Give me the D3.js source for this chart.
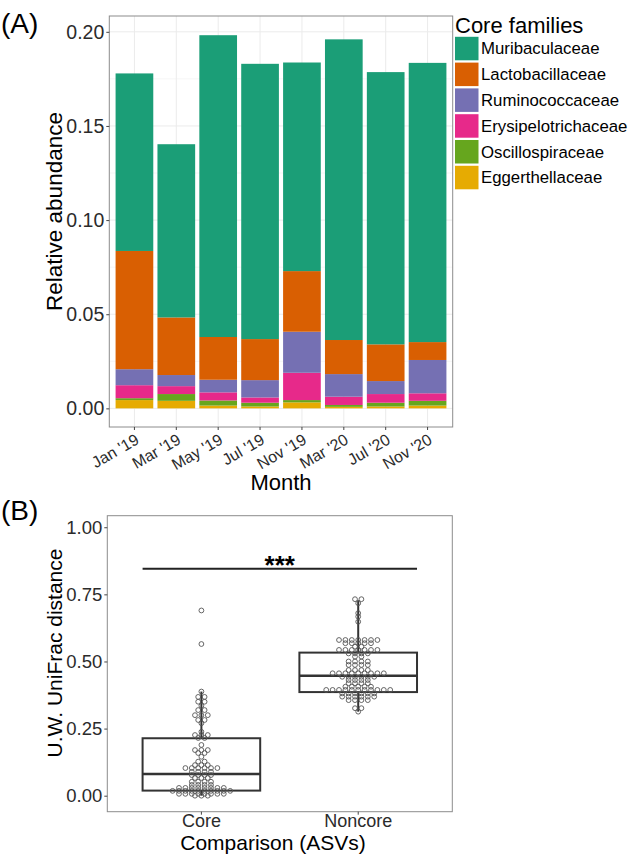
<!DOCTYPE html>
<html>
<head>
<meta charset="utf-8">
<script src="https://cdn.jsdelivr.net/npm/d3@7"></script>
<style>
  body { margin: 0; background: #fff; }
  svg { display: block; }
  text { font-family: "Liberation Sans", Arial, sans-serif; }
  .tick line { stroke: #444; }
  .tick text { fill: #2b2b2b; }
  .domain { display: none; }
</style>
</head>
<body>
<svg id="chart"></svg>
<script>
// ---- data: panel A (stacked relative abundance of core families) ----
const months = ["Jan '19", "Mar '19", "May '19", "Jul '19", "Nov '19", "Mar '20", "Jul '20", "Nov '20"];
const families = ["Muribaculaceae", "Lactobacillaceae", "Ruminococcaceae", "Erysipelotrichaceae", "Oscillospiraceae", "Eggerthellaceae"];
const familyColors = ["#1b9e77", "#d95f02", "#7570b3", "#e7298a", "#66a61e", "#e6ab02"];
const muribaculaceae      = [0.0943, 0.0920, 0.1603, 0.1462, 0.1108, 0.1597, 0.1446, 0.1483];
const lactobacillaceae    = [0.0628, 0.0306, 0.0227, 0.0218, 0.0322, 0.0181, 0.0195, 0.0095];
const ruminococcaceae     = [0.0085, 0.0059, 0.0067, 0.0092, 0.0218, 0.0120, 0.0069, 0.0177];
const erysipelotrichaceae = [0.0069, 0.0042, 0.0043, 0.0028, 0.0145, 0.0044, 0.0046, 0.0040];
const oscillospiraceae    = [0.0010, 0.0036, 0.0027, 0.0020, 0.0012, 0.0010, 0.0020, 0.0025];
const eggerthellaceae     = [0.0044, 0.0040, 0.0015, 0.0010, 0.0032, 0.0008, 0.0010, 0.0015];
const abundanceTicks = [0, 0.05, 0.10, 0.15, 0.20];

// ---- data: panel B (unweighted UniFrac distances) ----
const groups = ["Core", "Noncore"];
const boxLow    = [0.000, 0.313];
const boxQ1     = [0.019, 0.386];
const boxMedian = [0.081, 0.447];
const boxQ3     = [0.214, 0.533];
const boxHigh   = [0.388, 0.728];
const distanceTicks = [0, 0.25, 0.50, 0.75, 1.00];
const coreDistances = [
  0.690, 0.565,
  0.388, 0.368, 0.368, 0.350, 0.350, 0.335,
  0.319, 0.319, 0.300, 0.300, 0.300, 0.282, 0.282, 0.270,
  0.238, 0.226, 0.226, 0.226, 0.215, 0.215,
  0.189, 0.170, 0.170, 0.170, 0.159, 0.159, 0.145,
  0.127, 0.127, 0.114, 0.114, 0.114,
  0.103, 0.103, 0.103, 0.103, 0.103, 0.103,
  0.089, 0.089, 0.089, 0.089,
  0.077, 0.077, 0.077, 0.077,
  0.066, 0.066, 0.066,
  0.052, 0.052, 0.052, 0.052,
  0.040, 0.040, 0.040, 0.040,
  0.029, 0.029, 0.029, 0.029, 0.029, 0.029, 0.029, 0.029,
  0.018, 0.018, 0.018, 0.018, 0.018, 0.018, 0.018, 0.018, 0.018, 0.018,
  0.007, 0.007, 0.007, 0.007, 0.007, 0.007, 0.007, 0.007,
  0.000, 0.000, 0.000
];
const noncoreDistances = [
  0.732, 0.732, 0.717, 0.680, 0.667, 0.648,
  0.580, 0.580, 0.580, 0.580, 0.580, 0.580, 0.580,
  0.568, 0.568, 0.568, 0.568, 0.568,
  0.555, 0.555,
  0.543, 0.543, 0.543, 0.543, 0.543, 0.543, 0.543,
  0.530, 0.530, 0.530, 0.530,
  0.518, 0.518,
  0.500, 0.500, 0.500, 0.500,
  0.487, 0.487, 0.487, 0.487,
  0.468, 0.468, 0.468, 0.468,
  0.456, 0.456, 0.456, 0.456, 0.456, 0.456, 0.456, 0.456, 0.456,
  0.443, 0.443, 0.443, 0.443, 0.443, 0.443,
  0.431, 0.431, 0.431, 0.431,
  0.419, 0.419, 0.419, 0.419,
  0.406, 0.406, 0.406, 0.406, 0.406,
  0.394, 0.394, 0.394, 0.394, 0.394, 0.394, 0.394, 0.394, 0.394, 0.394, 0.394,
  0.381, 0.381, 0.381, 0.381, 0.381, 0.381,
  0.369, 0.369, 0.369, 0.369, 0.369, 0.369,
  0.356, 0.356, 0.356, 0.356,
  0.326, 0.326, 0.313
];

const svg = d3.select('#chart').attr('width', 630).attr('height', 862);

// dots sharing a value sit in one centred row
function rowLayout(values, y, spacing) {
    const pts = [];
    d3.group(values, v => v).forEach((vals, v) => {
        vals.forEach((d, k) => {
            pts.push({x: (k - (vals.length - 1) / 2) * spacing, y: y(v), v: v});
        });
    });
    return pts;
}

class StackedBars {
    constructor(_config) {
        this.config = {
            parentElement: _config.parentElement,
            left: 109.3, right: 452.7, top: 16, bottom: 427
        };
        this.initVis();
    }

    initVis() {
        let vis = this;
        vis.x = d3.scaleBand()
            .domain(months)
            .range([vis.config.left, vis.config.right])
            .paddingInner(0.1)
            .paddingOuter(0.15);
        vis.y = d3.scaleLinear()
            .domain([-0.0099, 0.2084])
            .range([vis.config.bottom, vis.config.top]);
        vis.color = d3.scaleOrdinal().domain(families).range(familyColors);
        vis.g = vis.config.parentElement.append('g');

        const series = [muribaculaceae, lactobacillaceae, ruminococcaceae, erysipelotrichaceae, oscillospiraceae, eggerthellaceae];
        vis.table = months.map((m, i) => {
            let row = {month: m};
            families.forEach((f, j) => row[f] = series[j][i]);
            return row;
        });
        // bottom of the stack is the last family in the legend
        vis.stack = d3.stack().keys(families.slice().reverse())(vis.table);
    }

    renderVis() {
        let vis = this;
        const c = vis.config;
        const minor = abundanceTicks.slice(1).map((t, i) => (t + abundanceTicks[i]) / 2);

        vis.g.append('g').selectAll('line').data(minor).join('line')
            .attr('x1', c.left).attr('x2', c.right)
            .attr('y1', d => vis.y(d)).attr('y2', d => vis.y(d))
            .attr('stroke', '#f2f2f2').attr('stroke-width', 0.8);
        vis.g.append('g').selectAll('line').data(abundanceTicks).join('line')
            .attr('x1', c.left).attr('x2', c.right)
            .attr('y1', d => vis.y(d)).attr('y2', d => vis.y(d))
            .attr('stroke', '#ebebeb').attr('stroke-width', 1);
        vis.g.append('g').selectAll('line').data(months).join('line')
            .attr('x1', d => vis.x(d) + vis.x.bandwidth() / 2)
            .attr('x2', d => vis.x(d) + vis.x.bandwidth() / 2)
            .attr('y1', c.top).attr('y2', c.bottom)
            .attr('stroke', '#ebebeb').attr('stroke-width', 1);

        vis.g.append('g').selectAll('g').data(vis.stack).join('g')
            .attr('fill', d => vis.color(d.key))
            .selectAll('rect').data(d => d).join('rect')
            .attr('x', d => vis.x(d.data.month))
            .attr('width', vis.x.bandwidth())
            .attr('y', d => vis.y(d[1]))
            .attr('height', d => vis.y(d[0]) - vis.y(d[1]));

        vis.g.append('rect')
            .attr('x', c.left).attr('y', c.top)
            .attr('width', c.right - c.left).attr('height', c.bottom - c.top)
            .attr('fill', 'none').attr('stroke', '#8c8c8c').attr('stroke-width', 1);

        vis.g.append('g')
            .attr('transform', `translate(${c.left},0)`)
            .call(d3.axisLeft(vis.y).tickValues(abundanceTicks).tickFormat(d3.format('.2f')).tickSize(3).tickPadding(2))
            .selectAll('text').style('font-size', '19.5px');

        const xAxis = vis.g.append('g')
            .attr('transform', `translate(0,${c.bottom})`)
            .call(d3.axisBottom(vis.x).tickSize(3));
        xAxis.selectAll('text')
            .style('font-size', '16px')
            .attr('text-anchor', 'end')
            .attr('y', 0).attr('dy', '0.71em')
            .attr('transform', 'translate(0,6) rotate(-30)');

        vis.g.append('text')
            .attr('x', (c.left + c.right) / 2).attr('y', 490)
            .attr('text-anchor', 'middle').style('font-size', '22px')
            .text('Month');
        vis.g.append('text')
            .attr('transform', `translate(62,${(c.top + c.bottom) / 2 - 10}) rotate(-90)`)
            .attr('text-anchor', 'middle').style('font-size', '22.5px')
            .text('Relative abundance');
        vis.g.append('text')
            .attr('x', 1).attr('y', 33).style('font-size', '28px')
            .text('(A)');

        // legend
        const legend = vis.g.append('g').attr('transform', 'translate(455,0)');
        legend.append('text').attr('x', 0).attr('y', 32.5)
            .style('font-size', '22px').text('Core families');
        const item = legend.selectAll('g.item').data(families).join('g')
            .attr('class', 'item')
            .attr('transform', (d, i) => `translate(0,${36.8 + i * 25.8})`);
        item.append('rect')
            .attr('width', 23.5).attr('height', 23.5)
            .attr('fill', d => vis.color(d));
        item.append('text')
            .attr('x', 26).attr('y', 11.8).attr('dy', '0.35em')
            .style('font-size', '16.8px').text(d => d);
    }
}

class DistanceBox {
    constructor(_config) {
        this.config = {
            parentElement: _config.parentElement,
            left: 107.3, right: 452.3, top: 515.7, bottom: 811.7
        };
        this.initVis();
    }

    initVis() {
        let vis = this;
        vis.x = d3.scaleBand()
            .domain(groups)
            .range([vis.config.left, vis.config.right])
            .paddingInner(0.25)
            .paddingOuter(0.225);
        vis.y = d3.scaleLinear()
            .domain([-0.0596, 1.043])
            .range([vis.config.bottom, vis.config.top]);
        vis.g = vis.config.parentElement.append('g');
    }

    renderVis() {
        let vis = this;
        const c = vis.config;
        const bw = vis.x.bandwidth();
        const cx = d => vis.x(d) + bw / 2;

        vis.g.append('rect')
            .attr('x', c.left).attr('y', c.top)
            .attr('width', c.right - c.left).attr('height', c.bottom - c.top)
            .attr('fill', 'none').attr('stroke', '#8c8c8c').attr('stroke-width', 1);

        const box = vis.g.append('g').selectAll('g').data(groups).join('g')
            .attr('stroke', '#333').attr('stroke-width', 2);
        box.append('line')
            .attr('x1', d => cx(d)).attr('x2', d => cx(d))
            .attr('y1', (d, i) => vis.y(boxHigh[i])).attr('y2', (d, i) => vis.y(boxLow[i]));
        box.append('rect')
            .attr('x', d => vis.x(d)).attr('width', bw)
            .attr('y', (d, i) => vis.y(boxQ3[i]))
            .attr('height', (d, i) => vis.y(boxQ1[i]) - vis.y(boxQ3[i]))
            .attr('fill', '#fff');
        box.append('line')
            .attr('x1', d => vis.x(d)).attr('x2', d => vis.x(d) + bw)
            .attr('y1', (d, i) => vis.y(boxMedian[i])).attr('y2', (d, i) => vis.y(boxMedian[i]))
            .attr('stroke-width', 2.4);

        [coreDistances, noncoreDistances].forEach((vals, i) => {
            const pts = rowLayout(vals, vis.y, 6.4);
            vis.g.append('g').selectAll('circle').data(pts).join('circle')
                .attr('cx', d => cx(groups[i]) + d.x)
                .attr('cy', d => d.y)
                .attr('r', 2.4)
                .attr('fill', 'none')
                .attr('stroke', '#555')
                .attr('stroke-width', 0.9);
        });

        // significance bar
        vis.g.append('line')
            .attr('x1', vis.x('Core')).attr('x2', vis.x('Noncore') + bw)
            .attr('y1', vis.y(0.845)).attr('y2', vis.y(0.845))
            .attr('stroke', '#222').attr('stroke-width', 2);
        vis.g.append('text')
            .attr('x', (cx('Core') + cx('Noncore')) / 2).attr('y', vis.y(0.845) + 5)
            .attr('text-anchor', 'middle')
            .style('font-size', '26px').style('font-weight', 'bold')
            .text('***');

        vis.g.append('g')
            .attr('transform', `translate(${c.left},0)`)
            .call(d3.axisLeft(vis.y).tickValues(distanceTicks).tickFormat(d3.format('.2f')).tickSize(3).tickPadding(2))
            .selectAll('text').style('font-size', '18.5px');
        vis.g.append('g')
            .attr('transform', `translate(0,${c.bottom})`)
            .call(d3.axisBottom(vis.x).tickSize(3).tickPadding(0))
            .selectAll('text').style('font-size', '18px');

        vis.g.append('text')
            .attr('x', 273).attr('y', 850)
            .attr('text-anchor', 'middle').style('font-size', '21px')
            .text('Comparison (ASVs)');
        vis.g.append('text')
            .attr('transform', 'translate(61.5,653) rotate(-90)')
            .attr('text-anchor', 'middle').style('font-size', '21px')
            .text('U.W. UniFrac distance');
        vis.g.append('text')
            .attr('x', 1).attr('y', 519.5).style('font-size', '28px')
            .text('(B)');
    }
}

const barChart = new StackedBars({parentElement: svg});
barChart.renderVis();
const boxChart = new DistanceBox({parentElement: svg});
boxChart.renderVis();
</script>
</body>
</html>
